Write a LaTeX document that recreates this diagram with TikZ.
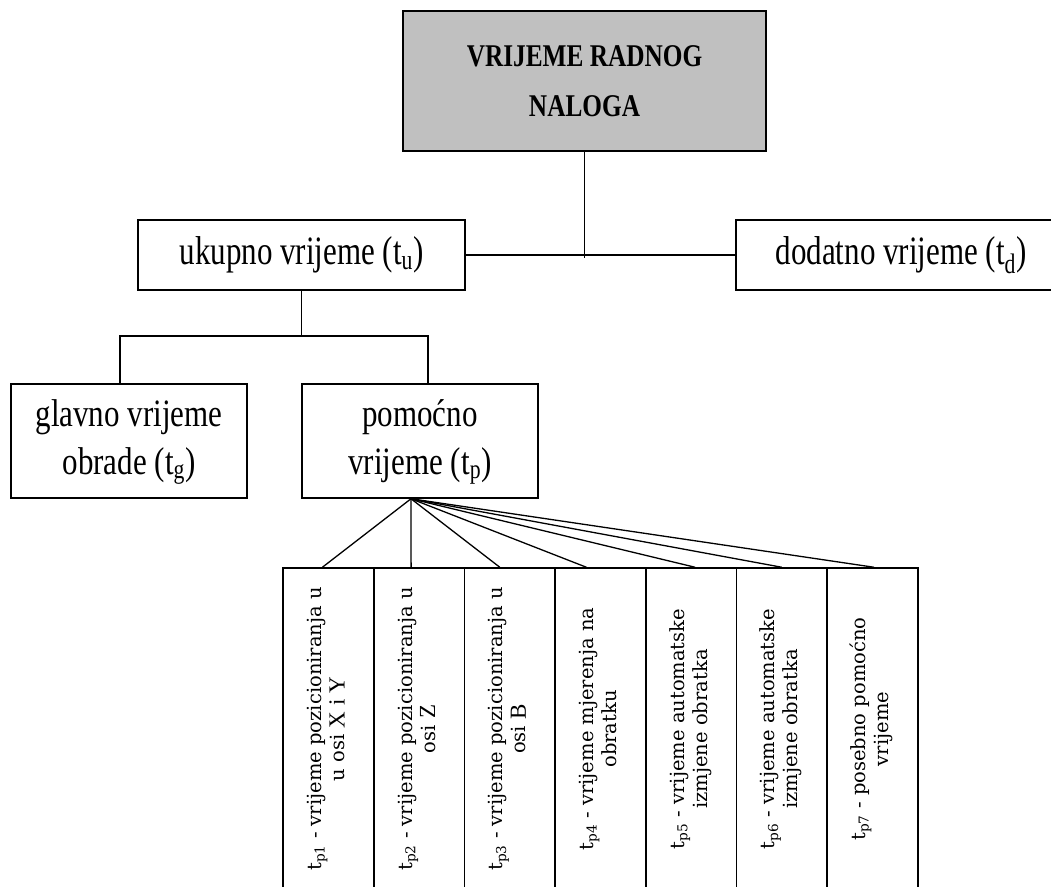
\documentclass[tikz,border=0pt]{standalone}
\usepackage{fontspec}
\usepackage{graphicx}
\setmainfont{Liberation Serif}
\newfontfamily\dvs{DejaVu Serif}
\definecolor{boxgray}{RGB}{192,192,192}
\newcommand{\vstack}[2]{\scalebox{1}[#1]{\begin{tabular}{@{}c@{}}#2\end{tabular}}}
\newcommand{\rstack}[1]{\rotatebox{90}{\dvs\fontsize{19.5}{23}\selectfont\begin{tabular}{@{}c@{}}#1\end{tabular}}}
\newcommand{\bigtxt}[1]{{\rmfamily\fontsize{23}{23}\selectfont #1}}
\begin{document}
\begin{tikzpicture}[x=1pt,y=-1pt,
  box/.style={draw=black, line width=1.5pt, inner sep=0pt, fill=white},
  topbox/.style={box, fill=boxgray, minimum width=363pt, minimum height=140pt,
     font=\bfseries\fontsize{25.3}{40}\selectfont},
  midbox/.style={box, minimum height=70pt, font=\fontsize{31}{38}\selectfont},
  lowbox/.style={box, minimum width=236pt, minimum height=114pt, font=\fontsize{31}{38}\selectfont},
  leaf/.style={box, minimum width=90.7pt, minimum height=322pt},
  conn/.style={line width=1.3pt}]
\clip (0,0) rectangle (1051,886);
% top
\node[topbox] (top) at (584.5,81) {\vstack{1.25}{VRIJEME RADNOG\\NALOGA}};
% level 2
\node[midbox, minimum width=327pt] (uk) at (301.5,255) {\vstack{1.3}{ukupno vrijeme (t\textsubscript{u})}};
\node[midbox, minimum width=330pt] (dod) at (901,255) {\vstack{1.3}{dodatno vrijeme (t\textsubscript{d})}};
% level 3
\node[lowbox] (gl) at (129,441) {\vstack{1.25}{glavno vrijeme\\obrade (t\textsubscript{g})}};
\node[lowbox] (po) at (420,441) {\vstack{1.25}{pomoćno\\vrijeme (t\textsubscript{p})}};
% leaves
\node[leaf] (l1) at (328.4,729) {\rstack{t\textsubscript{p1} - vrijeme pozicioniranja u\\u osi \bigtxt{X i Y}}};
\node[leaf] (l2) at (419.1,729) {\rstack{t\textsubscript{p2} - vrijeme pozicioniranja u\\osi \bigtxt{Z}}};
\node[leaf] (l3) at (509.8,729) {\rstack{t\textsubscript{p3} - vrijeme pozicioniranja u\\osi \bigtxt{B}}};
\node[leaf] (l4) at (600.4,729) {\rstack{t\textsubscript{p4} - vrijeme mjerenja na\\obratku}};
\node[leaf] (l5) at (691.1,729) {\rstack{t\textsubscript{p5} - vrijeme automatske\\izmjene obratka}};
\node[leaf] (l6) at (781.8,729) {\rstack{t\textsubscript{p6} - vrijeme automatske\\izmjene obratka}};
\node[leaf] (l7) at (872.5,729) {\rstack{t\textsubscript{p7} - posebno pomoćno\\vrijeme}};
% connectors
\coordinate (j1) at (584.5,258);
\draw[conn] (top.south) -- (j1);
\draw[conn] (uk.east) -- (dod.west);
\coordinate (j2) at (301.5,336);
\draw[conn] (uk.south) -- (j2);
\draw[conn] ([xshift=-9pt]gl.north) |- (j2) -| ([xshift=8pt]po.north);
\coordinate (fan) at ([xshift=-9pt]po.south);
\draw[conn] (fan) -- ([xshift=-6pt]l1.north);
\draw[conn] (fan) -- ([xshift=-8pt]l2.north);
\draw[conn] (fan) -- ([xshift=-10pt]l3.north);
\draw[conn] (fan) -- ([xshift=-14pt]l4.north);
\draw[conn] (fan) -- ([xshift=4pt]l5.north);
\draw[conn] (fan) -- ([xshift=0pt]l6.north);
\draw[conn] (fan) -- ([xshift=1.5pt]l7.north);
\end{tikzpicture}
\end{document}
